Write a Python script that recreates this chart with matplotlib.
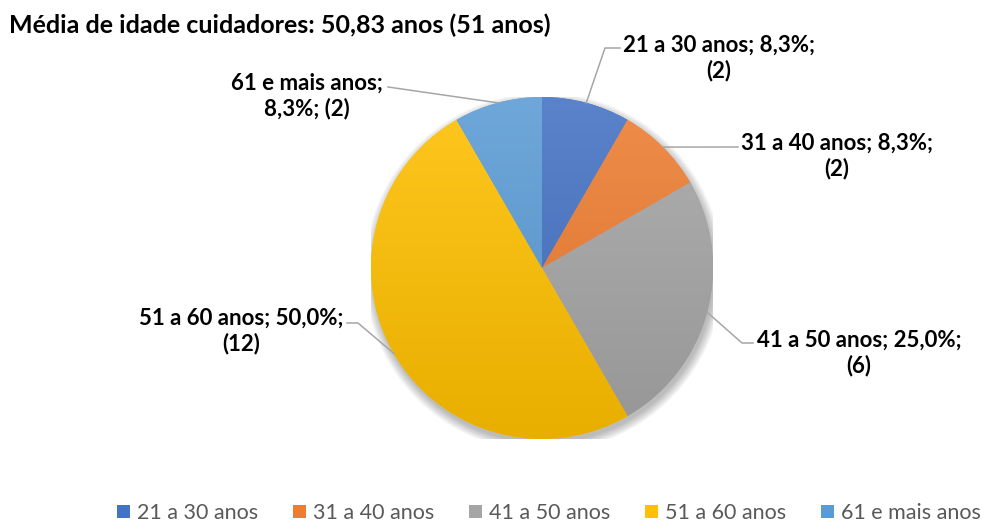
import numpy as np
import matplotlib
matplotlib.use("Agg")
import matplotlib.pyplot as plt
from matplotlib.colors import to_rgb
from matplotlib.patches import Patch, Circle
from matplotlib.lines import Line2D

# Dados do gráfico
categorias = ['21 a 30 anos', '31 a 40 anos', '41 a 50 anos', '51 a 60 anos', '61 e mais anos']
contagens = [2, 2, 6, 12, 2]
cores = ['#4472C4', '#ED7D31', '#A5A5A5', '#FFC000', '#5B9BD5']
titulo = 'Média de idade cuidadores: 50,83 anos (51 anos)'

plt.rcParams['font.family'] = ['Lato', 'DejaVu Sans']

W, H = 982, 530
fig = plt.figure(figsize=(W / 100, H / 100), dpi=100)

# eixo da pizza (centro e raio em pixels)
cx, cy, R = 542, 530 - 268, 171
ax = fig.add_axes([(cx - R) / W, (cy - R) / H, 2 * R / W, 2 * R / H])
wedges, _ = ax.pie(contagens, startangle=90, counterclock=False, colors=cores,
                   radius=1, wedgeprops=dict(linewidth=0))
ax.axis('off')


def shade(c, f):
    c = np.array(to_rgb(c))
    if f > 0:
        return c + (1 - c) * f
    return c * (1 + f)


# preenchimento em degradê (mais claro em cima, mais escuro embaixo)
t = np.linspace(0, 1, 200)[:, None, None]
for w, c in zip(wedges, cores):
    top, bot = shade(c, 0.12), shade(c, -0.09)
    grad = np.repeat(top * (1 - t) + bot * t, 2, axis=1)
    im = ax.imshow(grad, extent=(-1, 1, -1, 1), origin='upper', zorder=2,
                   aspect='auto', interpolation='bilinear')
    im.set_clip_path(w)

# sombra suave
for k in range(8):
    ax.add_patch(Circle((0.01, -0.025), 1 + k * 0.007, color='black',
                        alpha=0.035, lw=0, zorder=0))
ax.set_xlim(-1, 1)
ax.set_ylim(-1, 1)

# rótulos com linhas de chamada
total = sum(contagens)
# posição do texto (px, origem no topo) e pontos da linha
layout = [
    dict(text=(719, 58), pts=[(605, 48), (620, 48)]),
    dict(text=(837, 156), pts=[(738, 147)]),
    dict(text=(859, 353), pts=[(742, 343), (753, 343)]),
    dict(text=(241, 331), pts=[(358, 323), (347, 323)]),
    dict(text=(307, 96), pts=[(388, 87)]),
]
fig.canvas.draw()
for w, cat, n, lay in zip(wedges, categorias, contagens, layout):
    ang = np.deg2rad((w.theta1 + w.theta2) / 2)
    p0 = ax.transData.transform((np.cos(ang), np.sin(ang)))
    xs = [p0[0]] + [p[0] for p in lay['pts']]
    ys = [p0[1]] + [H - p[1] for p in lay['pts']]
    fig.add_artist(Line2D(xs, ys, transform=None, color='#A6A6A6', lw=1.1))
    pct = f'{100 * n / total:.1f}%'.replace('.', ',')
    if cat.startswith('61'):
        lbl = f'{cat};\n{pct}; ({n})'
    else:
        lbl = f'{cat}; {pct};\n({n})'
    tx, ty = lay['text']
    fig.text(tx / W, 1 - ty / H, lbl, ha='center', va='center',
             multialignment='center', fontsize=16, fontweight='bold',
             color='black', linespacing=1.2)

fig.text(9 / W, 1 - 25 / H, titulo, ha='left', va='center', fontsize=18,
         fontweight='bold', color='black')

handles = [Patch(facecolor=c, edgecolor='none') for c in cores]
fig.legend(handles, categorias, loc='center', bbox_to_anchor=(549 / W, 1 - 513 / H),
           ncol=5, frameon=False, fontsize=15.5, labelcolor='#595959',
           handlelength=0.6, handleheight=0.6, handletextpad=0.35,
           columnspacing=1.6, borderaxespad=0)

fig.savefig('out.png', dpi=100)
